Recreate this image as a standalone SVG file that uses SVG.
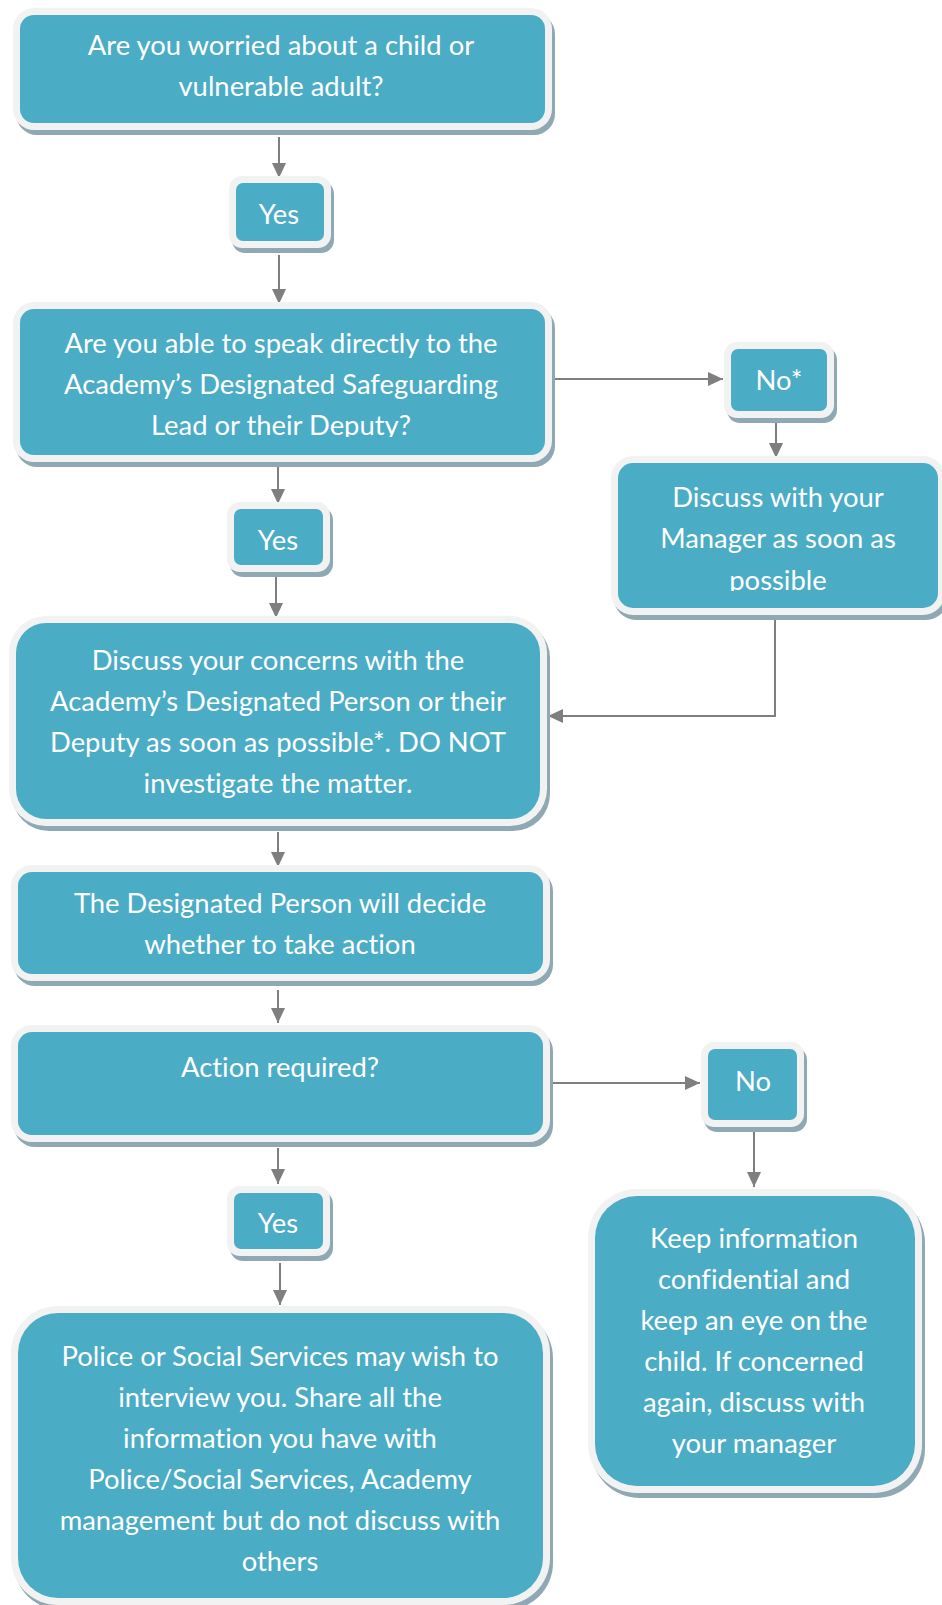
<svg xmlns="http://www.w3.org/2000/svg" width="942" height="1605" viewBox="0 0 942 1605">
<style>
.sh{fill:#8FA9B4}
.bd{fill:#F2F2F2}
.tl{fill:#4BACC6}
.t{font-family:Lato,"Liberation Sans",sans-serif;font-size:27.4px;fill:#FFFFFF;text-anchor:middle;font-variant-ligatures:none}
.c{fill:none;stroke:#7F7F7F;stroke-width:2}
</style>
<defs>
<marker id="ah" markerWidth="15" markerHeight="14" refX="15" refY="7" orient="auto" markerUnits="userSpaceOnUse">
<path d="M0,0 L15,7 L0,14 Z" fill="#7F7F7F"/>
</marker>
<clipPath id="clip2"><rect x="20" y="309" width="525" height="128"/></clipPath>
<clipPath id="clipM"><rect x="618" y="463" width="320" height="128"/></clipPath>
</defs>
<rect width="942" height="1605" fill="#FFFFFF"/>
<g id="connectors">
<path class="c" d="M279,137 V178" marker-end="url(#ah)"/>
<path class="c" d="M279,255 V304" marker-end="url(#ah)"/>
<path class="c" d="M555,379 H723" marker-end="url(#ah)"/>
<path class="c" d="M776,422 V458" marker-end="url(#ah)"/>
<path class="c" d="M278,467 V504" marker-end="url(#ah)"/>
<path class="c" d="M276,573 V618" marker-end="url(#ah)"/>
<path class="c" d="M775,618 V716 H548" marker-end="url(#ah)"/>
<path class="c" d="M278,832 V867" marker-end="url(#ah)"/>
<path class="c" d="M278,990 V1023" marker-end="url(#ah)"/>
<path class="c" d="M550,1083 H700" marker-end="url(#ah)"/>
<path class="c" d="M754,1127 V1187" marker-end="url(#ah)"/>
<path class="c" d="M278,1148 V1184" marker-end="url(#ah)"/>
<path class="c" d="M280,1263 V1305" marker-end="url(#ah)"/>
</g>
<g id="n1">
<rect class="sh" x="16" y="13" width="539" height="122" rx="21"/>
<rect class="bd" x="13" y="8" width="539" height="122" rx="21"/>
<rect class="tl" x="20" y="15" width="525" height="108" rx="14"/>
<text class="t" x="281" y="55">Are you worried about a child or</text>
<text class="t" x="281" y="96">vulnerable adult?</text>
</g>
<g id="yes1">
<rect class="sh" x="232" y="181" width="102" height="72" rx="13"/>
<rect class="bd" x="229" y="176" width="102" height="72" rx="13"/>
<rect class="tl" x="236" y="183" width="88" height="58" rx="7"/>
<text class="t" x="279" y="224">Yes</text>
</g>
<g id="n2">
<rect class="sh" x="16" y="307" width="539" height="160" rx="21"/>
<rect class="bd" x="13" y="302" width="539" height="160" rx="21"/>
<rect class="tl" x="20" y="309" width="525" height="146" rx="14"/>
<g clip-path="url(#clip2)">
<text class="t" x="281" y="353">Are you able to speak directly to the</text>
<text class="t" x="281" y="394">Academy’s Designated Safeguarding</text>
<text class="t" x="281" y="435">Lead or their Deputy?</text>
</g>
</g>
<g id="no1">
<rect class="sh" x="727" y="347" width="110" height="76" rx="13"/>
<rect class="bd" x="724" y="342" width="110" height="76" rx="13"/>
<rect class="tl" x="731" y="349" width="96" height="62" rx="7"/>
<text class="t" x="779" y="390">No*</text>
</g>
<g id="mgr">
<rect class="sh" x="614" y="461" width="334" height="159" rx="22"/>
<rect class="bd" x="611" y="456" width="334" height="159" rx="22"/>
<rect class="tl" x="618" y="463" width="320" height="145" rx="15"/>
<g clip-path="url(#clipM)">
<text class="t" x="778" y="507">Discuss with your</text>
<text class="t" x="778" y="548">Manager as soon as</text>
<text class="t" x="778" y="590">possible</text>
</g>
</g>
<g id="yes2">
<rect class="sh" x="230" y="507" width="103" height="70" rx="13"/>
<rect class="bd" x="227" y="502" width="103" height="70" rx="13"/>
<rect class="tl" x="234" y="509" width="89" height="56" rx="7"/>
<text class="t" x="278" y="550">Yes</text>
</g>
<g id="n3">
<rect class="sh" x="12" y="621" width="538" height="210" rx="37"/>
<rect class="bd" x="9" y="616" width="538" height="210" rx="37"/>
<rect class="tl" x="16" y="623" width="524" height="196" rx="30"/>
<text class="t" x="278" y="670">Discuss your concerns with the</text>
<text class="t" x="278" y="711">Academy’s Designated Person or their</text>
<text class="t" x="278" y="752">Deputy as soon as possible*. DO NOT</text>
<text class="t" x="278" y="793">investigate the matter.</text>
</g>
<g id="n4">
<rect class="sh" x="14" y="870" width="539" height="116" rx="21"/>
<rect class="bd" x="11" y="865" width="539" height="116" rx="21"/>
<rect class="tl" x="18" y="872" width="525" height="102" rx="14"/>
<text class="t" x="280" y="913">The Designated Person will decide</text>
<text class="t" x="280" y="954">whether to take action</text>
</g>
<g id="n5">
<rect class="sh" x="14" y="1030" width="539" height="117" rx="21"/>
<rect class="bd" x="11" y="1025" width="539" height="117" rx="21"/>
<rect class="tl" x="18" y="1032" width="525" height="103" rx="14"/>
<text class="t" x="280" y="1077">Action required?</text>
</g>
<g id="no2">
<rect class="sh" x="704" y="1047" width="103" height="85" rx="13"/>
<rect class="bd" x="701" y="1042" width="103" height="85" rx="13"/>
<rect class="tl" x="708" y="1049" width="89" height="71" rx="7"/>
<text class="t" x="753" y="1091">No</text>
</g>
<g id="yes3">
<rect class="sh" x="230" y="1191" width="103" height="70" rx="13"/>
<rect class="bd" x="227" y="1186" width="103" height="70" rx="13"/>
<rect class="tl" x="234" y="1193" width="89" height="56" rx="7"/>
<text class="t" x="278" y="1233">Yes</text>
</g>
<g id="n6">
<rect class="sh" x="14" y="1311" width="539" height="299" rx="47"/>
<rect class="bd" x="11" y="1306" width="539" height="299" rx="47"/>
<rect class="tl" x="18" y="1313" width="525" height="285" rx="40"/>
<text class="t" x="280" y="1366">Police or Social Services may wish to</text>
<text class="t" x="280" y="1407">interview you. Share all the</text>
<text class="t" x="280" y="1448">information you have with</text>
<text class="t" x="280" y="1489">Police/Social Services, Academy</text>
<text class="t" x="280" y="1530">management but do not discuss with</text>
<text class="t" x="280" y="1571">others</text>
</g>
<g id="keep">
<rect class="sh" x="591" y="1194" width="334" height="304" rx="49"/>
<rect class="bd" x="588" y="1189" width="334" height="304" rx="49"/>
<rect class="tl" x="595" y="1196" width="320" height="290" rx="42"/>
<text class="t" x="754" y="1248">Keep information</text>
<text class="t" x="754" y="1289">confidential and</text>
<text class="t" x="754" y="1330">keep an eye on the</text>
<text class="t" x="754" y="1371">child. If concerned</text>
<text class="t" x="754" y="1412">again, discuss with</text>
<text class="t" x="754" y="1453">your manager</text>
</g>
</svg>
